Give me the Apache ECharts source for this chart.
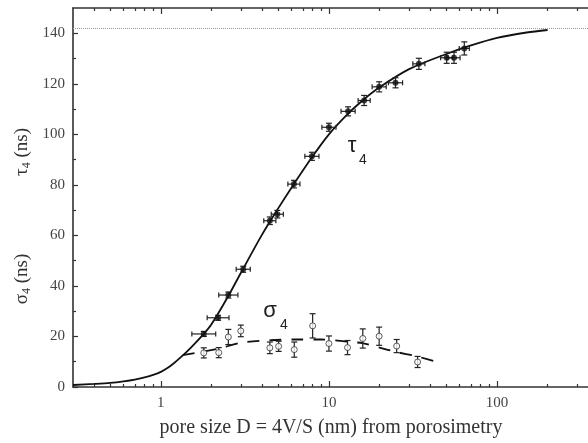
<!DOCTYPE html>
<html><head><meta charset="utf-8">
<script src="https://cdn.jsdelivr.net/npm/echarts@6/dist/echarts.min.js"></script>
<style>html,body{margin:0;padding:0;background:#fff}#c{width:588px;height:443px}</style>
</head><body><div id="c"></div>
<script>
// ---- tick labels / tick positions ----
const xTickLabels = [1, 10, 100];
const xMinorTicks = [0.4,0.5,0.6,0.7,0.8,0.9,2,3,4,5,6,7,8,9,20,30,40,50,60,70,80,90,200,300];
const yTickLabels = [0,20,40,60,80,100,120,140];
const yMinorTicks = [10,30,50,70,90,110,130];

// ---- tau4 measured points (filled) ----
const tauX    = [1.80,2.19,2.52,3.09,4.45,4.93,6.19,7.92,10.0,13.0,16.2,19.9,24.9,34.3,50.2,55.5,63.9];
const tauY    = [21.0,27.4,36.4,46.6,65.8,68.4,80.3,91.3,102.8,109.1,113.4,118.8,120.4,127.9,130.3,130.3,134.0];
const tauXErrDecades = [0.071,0.065,0.057,0.042,0.036,0.036,0.036,0.042,0.042,0.042,0.036,0.042,0.042,0.036,0.036,0.036,0.030];
const tauYErr = [1.0,1.0,1.2,1.2,1.5,1.5,1.5,1.6,1.6,1.8,2.0,2.0,2.0,2.2,2.2,2.2,2.6];

// ---- sigma4 measured points (open) ----
const sigmaX    = [1.80,2.21,2.52,2.99,4.45,5.02,6.22,8.0,10.0,12.9,15.9,19.9,25.3,33.7];
const sigmaY    = [13.5,13.6,19.8,22.2,15.5,16.1,14.8,24.2,17.2,15.6,19.2,20.1,16.2,9.9];
const sigmaYErr = [2.0,2.0,3.0,2.3,2.3,2.0,3.0,4.8,3.0,2.8,3.8,3.6,2.6,2.2];

// ---- fitted curves ----
const tauFitX = [0.3,0.4,0.5,0.6,0.7,0.8,0.9,1,1.1,1.2,1.3,1.5,1.8,2,2.5,3,4,5,6,8,10,13,16,20,30,50,70,100,150,200];
const tauFitY = [0.8,1.2,1.6,2.2,2.9,3.8,4.8,6.0,7.6,9.5,11.5,15.4,21.0,24.8,35.6,45.3,60.3,70.8,79.0,91.3,100.0,108.2,113.6,118.6,125.8,131.8,135.2,138.2,140.3,141.3];
const sigmaFitX = [1.35,2.2,3,4.5,6.2,9,13,16,20,25,33,45.4];
const sigmaFitY = [12.6,15.2,17.5,18.5,18.8,18.8,17.9,17.3,15.6,13.9,12.2,9.7];

const asymptote = 142;

// ---- build ----
const tauErrData = tauX.map((x,i)=>[x, tauY[i], x*Math.pow(10,-tauXErrDecades[i]), x*Math.pow(10,tauXErrDecades[i]), tauY[i]-tauYErr[i], tauY[i]+tauYErr[i]]);
const sigmaErrData = sigmaX.map((x,i)=>[x, sigmaY[i], x, x, sigmaY[i]-sigmaYErr[i], sigmaY[i]+sigmaYErr[i]]);
const pairs = (xs, ys) => xs.map((x,i)=>[x, ys[i]]);

const INK = '#222';
function errRender(params, api) {
  const x = api.value(0), y = api.value(1);
  const xlo = api.value(2), xhi = api.value(3), ylo = api.value(4), yhi = api.value(5);
  const st = {stroke: INK, lineWidth: 1.2};
  const ch = [];
  if (xlo !== xhi) {
    const a = api.coord([xlo, y]), b = api.coord([xhi, y]);
    ch.push({type:'line', shape:{x1:a[0],y1:a[1],x2:b[0],y2:b[1]}, style:st});
    ch.push({type:'line', shape:{x1:a[0],y1:a[1]-2.5,x2:a[0],y2:a[1]+2.5}, style:st});
    ch.push({type:'line', shape:{x1:b[0],y1:b[1]-2.5,x2:b[0],y2:b[1]+2.5}, style:st});
  }
  const t = api.coord([x, yhi]), bt = api.coord([x, ylo]);
  ch.push({type:'line', shape:{x1:t[0],y1:t[1],x2:bt[0],y2:bt[1]}, style:st});
  ch.push({type:'line', shape:{x1:t[0]-3,y1:t[1],x2:t[0]+3,y2:t[1]}, style:st});
  ch.push({type:'line', shape:{x1:bt[0]-3,y1:bt[1],x2:bt[0]+3,y2:bt[1]}, style:st});
  return {type:'group', children: ch};
}

const SERIF = '"Liberation Serif", "DejaVu Serif", serif';
const axisLine = {show:true, lineStyle:{color:'#333', width:1.6}};
const XMIN = 0.3, XMAX = 348, YMIN = 0, YMAX = 150;

function xAx(pos, ticks, len, showLine, showLabel) {
  return {
    type:'log', logBase:10, position:pos, min:XMIN, max:XMAX,
    axisLine: showLine ? axisLine : {show:false},
    axisTick: {show:true, inside:true, length:len, customValues:ticks, lineStyle:{color:'#333', width:1.2}},
    axisLabel: showLabel ? {show:true, customValues:ticks, margin:9, color:'#444', fontFamily:SERIF, fontSize:15,
      formatter: v => String(Math.round(v))} : {show:false},
    splitLine:{show:false}, minorTick:{show:false}, minorSplitLine:{show:false}
  };
}
function yAx(ticks, len, showLine, showLabel) {
  return {
    type:'value', position:'left', min:YMIN, max:YMAX,
    axisLine: showLine ? axisLine : {show:false},
    axisTick: {show:true, inside:true, length:len, customValues:ticks, lineStyle:{color:'#333', width:1.2}},
    axisLabel: showLabel ? {show:true, customValues:ticks, margin:8, color:'#444', fontFamily:SERIF, fontSize:15} : {show:false},
    splitLine:{show:false}
  };
}

const chart = echarts.init(document.getElementById('c'), null, {renderer:'canvas'});
chart.setOption({
  animation:false,
  backgroundColor:'#fff',
  grid:{left:73, right:0, top:8, bottom:56, containLabel:false},
  xAxis:[
    xAx('bottom', xTickLabels, 6, true, true),
    xAx('bottom', xMinorTicks, 3, false, false),
    xAx('top', xTickLabels, 6, true, false),
    xAx('top', xMinorTicks, 3, false, false)
  ],
  yAxis:[
    yAx(yTickLabels, 5, true, true),
    yAx(yMinorTicks, 3, false, false)
  ],
  series:[
    {type:'line', name:'tauFit', data:pairs(tauFitX, tauFitY), smooth:0.3, symbol:'none',
     lineStyle:{color:'#111', width:1.8}, z:2,
     markLine:{silent:true, symbol:['none','none'], label:{show:false},
       lineStyle:{type:'dotted', color:'#999', width:1}, data:[{yAxis:asymptote}]}},
    {type:'line', name:'sigmaFit', data:pairs(sigmaFitX, sigmaFitY), smooth:0.3, symbol:'none',
     lineStyle:{color:'#111', width:1.8, type:[12,10]}, z:2},
    {type:'custom', name:'tauErr', renderItem:errRender, data:tauErrData, encode:{x:0,y:1}, z:3},
    {type:'custom', name:'sigmaErr', renderItem:errRender, data:sigmaErrData, encode:{x:0,y:1}, z:3},
    {type:'scatter', name:'tau', data:pairs(tauX, tauY), symbol:'circle', symbolSize:6,
     itemStyle:{color:'#111'}, z:4},
    {type:'scatter', name:'sigma', data:pairs(sigmaX, sigmaY), symbol:'circle', symbolSize:6,
     itemStyle:{color:'#fff', borderColor:'#333', borderWidth:1}, z:4}
  ],
  graphic:[
    {type:'text', x:331, y:428, style:{text:'pore size D = 4V/S (nm) from porosimetry',
      font:'20px ' + SERIF, fill:'#333', align:'center', verticalAlign:'middle'}},
    {type:'text', x:22, y:152, rotation:Math.PI/2, style:{text:'{m|τ}{s|4}{m| (ns)}', align:'center', verticalAlign:'middle',
      rich:{m:{fontFamily:SERIF, fontSize:19, fill:'#333', lineHeight:22, verticalAlign:'middle'},
            s:{fontFamily:SERIF, fontSize:12, fill:'#333', lineHeight:12, verticalAlign:'bottom'}}}},
    {type:'text', x:22, y:279, rotation:Math.PI/2, style:{text:'{m|σ}{s|4}{m| (ns)}', align:'center', verticalAlign:'middle',
      rich:{m:{fontFamily:SERIF, fontSize:19, fill:'#333', lineHeight:22, verticalAlign:'middle'},
            s:{fontFamily:SERIF, fontSize:12, fill:'#333', lineHeight:12, verticalAlign:'bottom'}}}},
    {type:'text', x:352, y:146, style:{text:'τ', font:'22px "Liberation Sans", Arial, sans-serif', fill:'#222', align:'center', verticalAlign:'middle'}},
    {type:'text', x:363, y:160, style:{text:'4', font:'14px "Liberation Sans", Arial, sans-serif', fill:'#222', align:'center', verticalAlign:'middle'}},
    {type:'text', x:270, y:311, style:{text:'σ', font:'22px "Liberation Sans", Arial, sans-serif', fill:'#222', align:'center', verticalAlign:'middle'}},
    {type:'text', x:284, y:325, style:{text:'4', font:'14px "Liberation Sans", Arial, sans-serif', fill:'#222', align:'center', verticalAlign:'middle'}}
  ]
});
</script>
</body></html>
